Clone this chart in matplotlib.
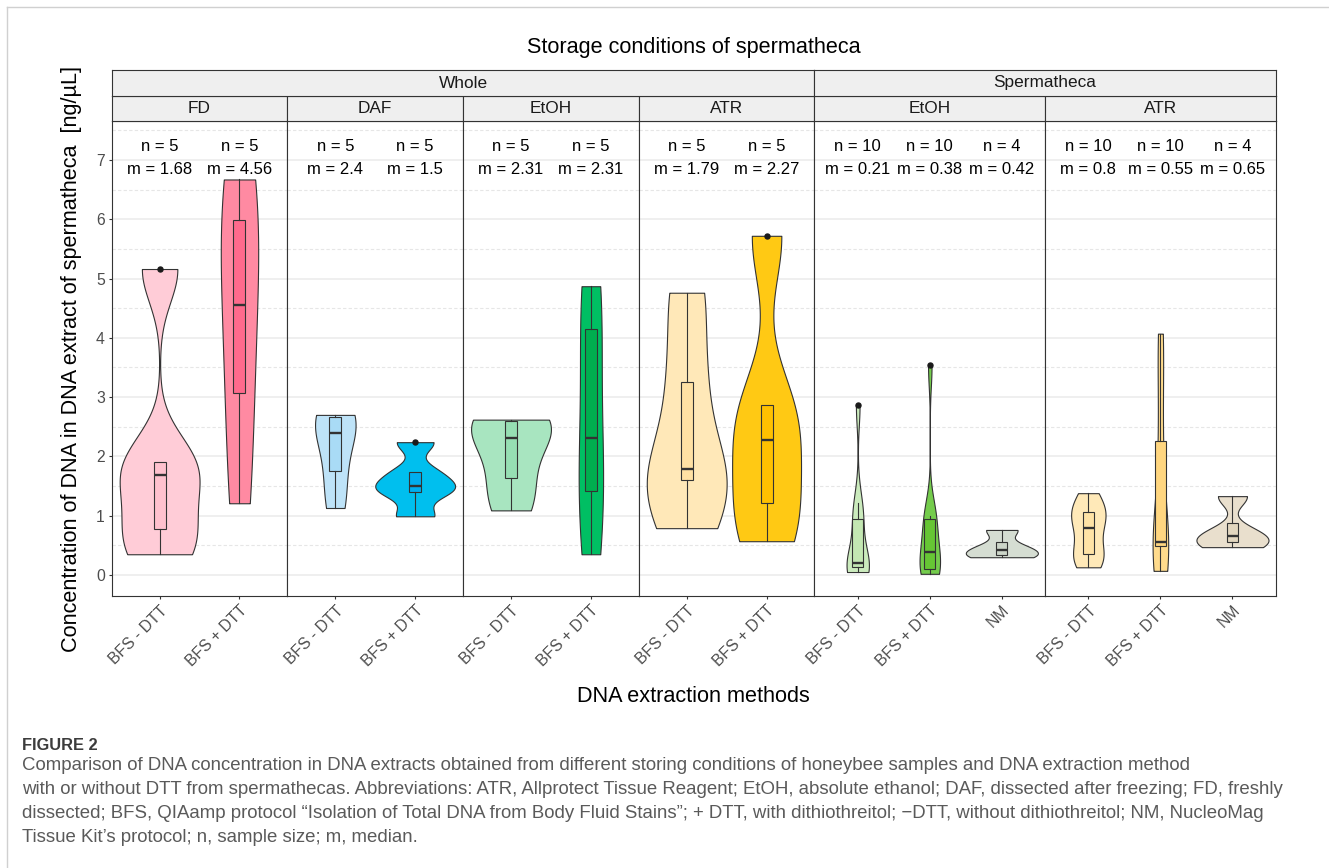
import numpy as np
import matplotlib
matplotlib.use("Agg")
import matplotlib.pyplot as plt
from matplotlib import cbook
from matplotlib.lines import Line2D

plt.rcParams["font.family"] = ["Liberation Sans", "DejaVu Sans"]

# facets
storage = ["FD", "DAF", "EtOH", "ATR", "EtOH", "ATR"]
sample_type = ["Whole", "Whole", "Whole", "Whole", "Spermatheca", "Spermatheca"]
methods_whole = ["BFS - DTT", "BFS + DTT"]
methods_sperm = ["BFS - DTT", "BFS + DTT", "NM"]

# DNA concentration [ng/uL]
fd_minus = [0.35, 0.77, 1.68, 1.91, 5.16]
fd_plus = [1.21, 3.07, 4.56, 5.99, 6.67]
daf_minus = [1.13, 1.75, 2.40, 2.67, 2.70]
daf_plus = [0.99, 1.40, 1.50, 1.73, 2.24]
etoh_minus = [1.09, 1.63, 2.31, 2.60, 2.62]
etoh_plus = [0.35, 1.41, 2.31, 4.15, 4.87]
atr_minus = [0.79, 1.61, 1.79, 3.26, 4.76]
atr_plus = [0.57, 1.21, 2.27, 2.87, 5.72]
sp_etoh_minus = [0.05, 0.08, 0.12, 0.16, 0.19, 0.23, 0.85, 0.98, 1.22, 2.87]
sp_etoh_plus = [0.02, 0.05, 0.08, 0.16, 0.30, 0.46, 0.90, 0.97, 1.00, 3.54]
sp_etoh_nm = [0.30, 0.36, 0.48, 0.76]
sp_atr_minus = [0.13, 0.25, 0.32, 0.44, 0.72, 0.88, 1.00, 1.08, 1.20, 1.38]
sp_atr_plus = [0.07, 0.30, 0.48, 0.52, 0.53, 0.57, 1.60, 2.47, 3.60, 4.07]
sp_atr_nm = [0.47, 0.58, 0.72, 1.33]

panel_data = [
    [fd_minus, fd_plus],
    [daf_minus, daf_plus],
    [etoh_minus, etoh_plus],
    [atr_minus, atr_plus],
    [sp_etoh_minus, sp_etoh_plus, sp_etoh_nm],
    [sp_atr_minus, sp_atr_plus, sp_atr_nm],
]
panel_methods = [methods_whole] * 4 + [methods_sperm] * 2

violin_cols = [["#FFCCD7", "#FF8AA2"], ["#BEE3F8", "#00BFEE"],
               ["#A8E5C0", "#00BF63"], ["#FFE8B8", "#FFC914"],
               ["#CBEBBD", "#74CC4C", "#D5DDD2"], ["#FFE9B8", "#FFDB8C", "#E9DFCD"]]
box_cols = [["#FFC1CE", "#FF6A8C"], ["#A9DBF6", "#00AEEF"],
            ["#96DFB3", "#00AE4F"], ["#FFE1A4", "#FFC000"],
            ["#C3E7B2", "#66C634", "#CCD5C8"], ["#FFE3A6", "#FFD680", "#E2D6BF"]]

EDGE = "#333333"


def kde_nrd0(x, coords):
    x = np.asarray(x, float)
    sd = x.std(ddof=1)
    iqr = np.subtract(*np.percentile(x, [75, 25]))
    lo = min(sd, iqr / 1.34) or sd or 1.0
    bw = 0.9 * lo * len(x) ** -0.2
    z = (coords[:, None] - x[None, :]) / bw
    return np.exp(-0.5 * z ** 2).sum(axis=1) / (len(x) * bw * np.sqrt(2 * np.pi))


W, H = 1329, 868
fig = plt.figure(figsize=(W / 100, H / 100), dpi=100)


def fx(px):
    return px / W


def fy(py):
    return 1 - py / H


left, right = 111.7, 1275.7
top, bottom = 121, 596
units = [len(m) + 1.2 for m in panel_methods]
unit_px = (right - left) / sum(units)
edges = [left + unit_px * sum(units[:i]) for i in range(len(units) + 1)]

for i, (data, methods) in enumerate(zip(panel_data, panel_methods)):
    x0, x1 = edges[i], edges[i + 1]
    ax = fig.add_axes([fx(x0), fy(bottom), (x1 - x0) / W, (bottom - top) / H])
    n = len(methods)
    pos = np.arange(1, n + 1)
    ax.set_xlim(0.4, n + 0.6)
    ax.set_ylim(-0.354, 7.656)

    stats = cbook.violin_stats(data, kde_nrd0, points=512)
    peak = max(s["vals"].max() for s in stats)
    widths = [1.0 * s["vals"].max() / peak for s in stats]
    parts = ax.violin(stats, positions=pos, widths=widths, showmeans=False,
                      showextrema=False, showmedians=False)
    for body, c in zip(parts["bodies"], violin_cols[i]):
        body.set_facecolor(c)
        body.set_edgecolor(EDGE)
        body.set_alpha(1)
        body.set_linewidth(0.8)
        body.set_zorder(2)

    bp = ax.boxplot(data, positions=pos, widths=0.15, patch_artist=True,
                    showcaps=False, whis=1.5, manage_ticks=False,
                    medianprops=dict(color=EDGE, linewidth=1.7),
                    boxprops=dict(edgecolor=EDGE, linewidth=0.8),
                    whiskerprops=dict(color=EDGE, linewidth=0.8),
                    flierprops=dict(marker="o", markerfacecolor="#1A1A1A",
                                    markeredgecolor="#1A1A1A", markersize=3.6),
                    zorder=3)
    for patch, c in zip(bp["boxes"], box_cols[i]):
        patch.set_facecolor(c)

    for p, d in zip(pos, data):
        med = round(float(np.median(d)), 2)
        ax.text(p, 7.23, f"n = {len(d)}", ha="center", va="center", fontsize=12, color="black")
        ax.text(p, 6.83, f"m = {med:g}", ha="center", va="center", fontsize=12, color="black")

    ax.set_yticks(range(8))
    ax.set_yticks(np.arange(0.5, 7.6, 1), minor=True)
    ax.grid(axis="y", which="major", color="#EBEBEB", linewidth=1.1)
    ax.grid(axis="y", which="minor", color="#E6E6E6", linewidth=0.8, linestyle=(0, (3, 2)))
    ax.set_axisbelow(True)
    ax.tick_params(which="minor", length=0)
    ax.tick_params(which="major", length=2.4, width=0.8, color=EDGE,
                   labelsize=11.3, labelcolor="#4D4D4D", pad=2.5)
    if i > 0:
        ax.tick_params(axis="y", left=False, labelleft=False)
    ax.set_xticks(pos)
    ax.set_xticklabels(methods, rotation=45, ha="right", va="top", rotation_mode="anchor")
    for s in ax.spines.values():
        s.set_color(EDGE)
        s.set_linewidth(0.8)

    # inner strip
    sax = fig.add_axes([fx(x0), fy(121), (x1 - x0) / W, 25 / H])
    sax.set_facecolor("#EFEFEF")
    sax.set_xticks([])
    sax.set_yticks([])
    for s in sax.spines.values():
        s.set_color(EDGE)
        s.set_linewidth(0.8)
    sax.text(0.5, 0.5, storage[i], transform=sax.transAxes, ha="center", va="center",
             fontsize=12.4, color="#1A1A1A")

# outer strips
for name in dict.fromkeys(sample_type):
    idx = [k for k, s in enumerate(sample_type) if s == name]
    x0, x1 = edges[idx[0]], edges[idx[-1] + 1]
    oax = fig.add_axes([fx(x0), fy(96), (x1 - x0) / W, 26 / H])
    oax.set_facecolor("#EFEFEF")
    oax.set_xticks([])
    oax.set_yticks([])
    for s in oax.spines.values():
        s.set_color(EDGE)
        s.set_linewidth(0.8)
    oax.text(0.5, 0.5, name, transform=oax.transAxes, ha="center", va="center",
             fontsize=12.4, color="#1A1A1A")

fig.text(fx((left + right) / 2), fy(48), "Storage conditions of spermatheca",
         ha="center", va="center", fontsize=15.6)
fig.text(fx((left + right) / 2), fy(697), "DNA extraction methods",
         ha="center", va="center", fontsize=15.6)
fig.text(fx(72), fy(358.5), "Concentration of DNA in DNA extract of spermatheca  [ng/µL]",
         rotation=90, ha="center", va="center", fontsize=15.6)

# caption
fig.text(fx(22), fy(745), "FIGURE 2", ha="left", va="center", fontsize=11.8,
         fontweight="bold", color="#3C3C3C")
caption = [
    "Comparison of DNA concentration in DNA extracts obtained from different storing conditions of honeybee samples and DNA extraction method",
    "with or without DTT from spermathecas. Abbreviations: ATR, Allprotect Tissue Reagent; EtOH, absolute ethanol; DAF, dissected after freezing; FD, freshly",
    "dissected; BFS, QIAamp protocol \u201cIsolation of Total DNA from Body Fluid Stains\u201d; + DTT, with dithiothreitol; \u2212DTT, without dithiothreitol; NM, NucleoMag",
    "Tissue Kit\u2019s protocol; n, sample size; m, median.",
]
for k, line in enumerate(caption):
    fig.text(fx(22), fy(766 + 24 * k), line, ha="left", va="center", fontsize=13.4,
             color="#5A5A5A")

fig.add_artist(Line2D([fx(7), fx(7)], [fy(7), 0], color="#D0D0D0", linewidth=1.0))
fig.add_artist(Line2D([fx(7), 1], [fy(7), fy(7)], color="#D0D0D0", linewidth=1.0))

fig.savefig("out.png", dpi=100)
